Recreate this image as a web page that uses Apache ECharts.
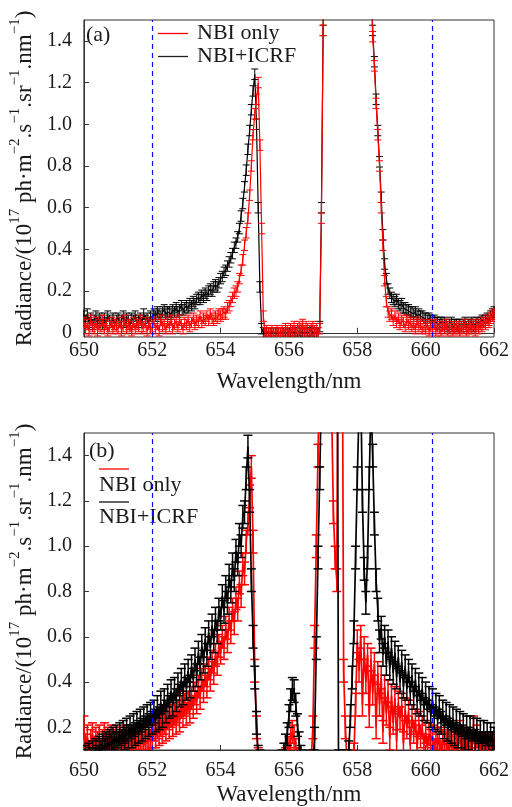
<!DOCTYPE html>
<html><head><meta charset="utf-8">
<script src="https://cdn.jsdelivr.net/npm/echarts@6/dist/echarts.min.js"></script>
<style>html,body{margin:0;padding:0;background:#fff}#c{width:512px;height:807px}</style>
</head><body><div id="c"></div>
<script>
// ---- data ----
const wlStart = 650, wlStep = 0.05;           // sampling grid of the spectra (nm)
const xTicks = [650, 652, 654, 656, 658, 660, 662];
const yTicksA = [0, 0.2, 0.4, 0.6, 0.8, 1.0, 1.2, 1.4];
const yTicksB = [0.2, 0.4, 0.6, 0.8, 1.0, 1.2, 1.4];
const markerWl = [652, 660.2];
const legendNames = ['NBI only', 'NBI+ICRF'];
const panelLabels = ['(a)', '(b)'];

// panel (a) NBI+ICRF
const aBlack = [
0.08,0.06,0.09,0.05,0.07,0.04,0.06,0.08,0.05,0.07,0.06,0.04,0.07,0.05,0.08,0.06,0.05,0.07,0.04,0.06,
0.07,0.05,0.06,0.08,0.05,0.07,0.06,0.04,0.07,0.06,0.08,0.05,0.06,0.07,0.05,0.09,0.06,0.07,0.05,0.08,
0.07,0.09,0.08,0.1,0.09,0.08,0.1,0.11,0.09,0.1,0.1,0.09,0.11,0.1,0.12,0.1,0.11,0.13,0.11,0.12,
0.13,0.12,0.14,0.13,0.15,0.14,0.16,0.17,0.16,0.18,0.17,0.19,0.18,0.2,0.21,0.2,0.22,0.23,0.22,0.24,
0.26,0.27,0.29,0.3,0.32,0.34,0.36,0.38,0.41,0.43,0.46,0.5,0.56,0.62,0.7,0.78,0.88,0.97,1.07,1.16,
1.24,1.0,0.6,0.22,0.02,0,0,0,0,0,0,0,0,0,0,0,0,0,0,0,
0,0,0.01,0,0,0,0.01,0,0,0,0,0,0,0.01,0,0,0,0,0.03,0.6,
1.45,3,3,3,3,3,3,3,3,3,3,3,3,3,3,3,3,3,3,3,
3,3,3,3,3,3,3,3,1.75,1.45,1.3,1.12,0.97,0.82,0.65,0.47,0.33,0.26,0.21,0.19,
0.17,0.16,0.15,0.16,0.14,0.13,0.14,0.12,0.12,0.11,0.11,0.1,0.1,0.09,0.1,0.08,0.09,0.08,0.08,0.07,
0.07,0.06,0.07,0.06,0.05,0.06,0.05,0.05,0.04,0.05,0.04,0.05,0.04,0.03,0.04,0.05,0.03,0.04,0.04,0.03,
0.04,0.03,0.04,0.05,0.03,0.04,0.04,0.05,0.03,0.04,0.05,0.04,0.05,0.06,0.05,0.06,0.07,0.06,0.08,0.09,
0.1];
// panel (a) NBI only
const aRed = [
0.05,0.02,0.04,0.01,0.06,0.03,0.02,0.05,0.01,0.04,0.03,0.06,0.02,0.04,0.01,0.03,0.05,0.02,0.04,0.03,
0.02,0.05,0.01,0.03,0.06,0.02,0.04,0.03,0.01,0.05,0.02,0.04,0.03,0.06,0.02,0.03,0.05,0.01,0.04,0.02,
0.03,0.05,0.02,0.04,0.01,0.06,0.03,0.04,0.02,0.05,0.03,0.06,0.02,0.04,0.05,0.03,0.06,0.04,0.02,0.05,
0.04,0.06,0.03,0.05,0.07,0.04,0.06,0.05,0.08,0.05,0.07,0.06,0.08,0.06,0.09,0.07,0.06,0.08,0.07,0.09,
0.08,0.09,0.1,0.09,0.12,0.13,0.15,0.17,0.19,0.2,0.22,0.26,0.3,0.35,0.42,0.48,0.55,0.66,0.8,0.95,
1.05,1.12,1.2,0.9,0.5,0.08,0,0.01,0,0,0.01,0,0,0.01,0,0,0.01,0,0.02,0.01,
0,0.02,0.01,0.03,0.01,0.02,0.03,0.02,0.04,0.01,0.03,0.02,0.01,0.02,0.03,0.01,0.02,0,0.02,0.55,
1.45,3,3,3,3,3,3,3,3,3,3,3,3,3,3,3,3,3,3,3,
3,3,3,3,3,3,3,3,1.7,1.42,1.28,1.1,0.95,0.8,0.6,0.42,0.25,0.15,0.1,0.08,
0.09,0.06,0.08,0.05,0.07,0.04,0.06,0.05,0.03,0.06,0.04,0.05,0.03,0.04,0.02,0.05,0.03,0.04,0.02,0.03,
0.02,0.04,0.01,0.03,0.02,0.04,0.01,0.03,0.02,0.01,0.03,0.02,0.04,0.01,0.02,0.03,0.01,0.02,0.03,0.02,
0.01,0.03,0.02,0.04,0.01,0.02,0.03,0.02,0.04,0.01,0.03,0.02,0.04,0.03,0.05,0.04,0.06,0.05,0.07,0.08,
0.09];
// panel (b) NBI+ICRF
const bBlack = [
0.05,0.07,0.04,0.08,0.06,0.09,0.06,0.1,0.07,0.11,0.09,0.12,0.1,0.13,0.11,0.14,0.12,0.15,0.13,0.16,
0.13,0.17,0.14,0.18,0.15,0.19,0.16,0.2,0.16,0.21,0.17,0.22,0.18,0.23,0.19,0.24,0.2,0.25,0.21,0.26,
0.22,0.27,0.23,0.29,0.24,0.31,0.25,0.32,0.27,0.34,0.29,0.36,0.3,0.37,0.32,0.39,0.34,0.41,0.35,0.43,
0.37,0.45,0.38,0.47,0.41,0.5,0.43,0.53,0.46,0.56,0.49,0.59,0.52,0.62,0.55,0.65,0.58,0.68,0.62,0.72,
0.68,0.78,0.71,0.82,0.75,0.87,0.8,0.92,0.85,0.98,0.92,1.05,1.0,1.13,1.15,1.3,1.44,1.2,0.85,0.6,
0.42,0.22,0.07,0.05,0.04,0.04,0.03,0.03,0.03,0.03,0.03,0.03,0.03,0.03,0.03,0.04,0.05,0.08,0.12,0.17,
0.25,0.32,0.37,0.36,0.3,0.21,0.13,0.07,0.05,0.04,0.04,0.04,0.04,0.04,0.05,0.15,0.55,0.95,1.3,1.7,
3,3,3,3,3,3,3,3,3,0.05,0.04,0.04,0.05,0.04,0.05,0.09,0.25,0.42,0.62,0.95,
1.3,1.6,1.7,1.2,0.9,0.75,0.95,1.3,1.65,1.4,1.1,0.85,0.72,0.58,0.64,0.52,0.6,0.48,0.58,0.46,
0.55,0.44,0.53,0.42,0.51,0.4,0.49,0.38,0.47,0.37,0.45,0.35,0.43,0.33,0.41,0.31,0.39,0.3,0.37,0.28,
0.35,0.27,0.33,0.25,0.32,0.24,0.3,0.23,0.29,0.22,0.27,0.2,0.26,0.19,0.25,0.18,0.24,0.17,0.23,0.16,
0.22,0.16,0.21,0.15,0.2,0.15,0.2,0.14,0.19,0.14,0.19,0.13,0.18,0.13,0.18,0.13,0.17,0.13,0.17,0.13,
0.15];
// panel (b) NBI only
const bRed = [
0.2,0.12,0.16,0.09,0.14,0.17,0.11,0.15,0.13,0.16,0.1,0.14,0.17,0.12,0.15,0.13,0.16,0.11,0.14,0.15,
0.13,0.15,0.12,0.14,0.16,0.13,0.15,0.12,0.14,0.13,0.15,0.12,0.14,0.13,0.15,0.12,0.14,0.13,0.15,0.14,
0.16,0.19,0.16,0.2,0.17,0.21,0.18,0.22,0.19,0.24,0.2,0.25,0.21,0.26,0.22,0.27,0.23,0.29,0.25,0.3,
0.26,0.31,0.27,0.33,0.29,0.35,0.31,0.38,0.33,0.41,0.36,0.43,0.38,0.46,0.41,0.49,0.44,0.52,0.48,0.56,
0.53,0.6,0.55,0.64,0.58,0.68,0.62,0.72,0.66,0.77,0.72,0.84,0.78,0.92,0.88,1.02,1.1,1.22,1.35,1.02,
0.45,0.2,0.06,0.04,0.03,0.03,0.03,0.03,0.03,0.03,0.03,0.03,0.03,0.03,0.03,0.03,0.04,0.05,0.06,0.08,
0.11,0.15,0.18,0.16,0.1,0.06,0.04,0.03,0.03,0.03,0.03,0.03,0.03,0.05,0.2,0.6,1.0,1.4,1.8,2.5,
3,3,3,3,3,1.6,1.15,0.95,0.85,2.5,3,2.5,0.45,0.2,0.05,0.05,0.04,0.05,0.08,0.3,
0.58,0.45,0.6,0.3,0.55,0.4,0.52,0.25,0.5,0.35,0.48,0.2,0.44,0.3,0.42,0.18,0.38,0.26,0.36,0.15,
0.34,0.22,0.33,0.14,0.31,0.24,0.3,0.13,0.28,0.2,0.27,0.12,0.25,0.18,0.23,0.11,0.22,0.16,0.2,0.12,
0.18,0.11,0.17,0.14,0.16,0.1,0.15,0.12,0.15,0.09,0.14,0.12,0.13,0.09,0.14,0.11,0.12,0.08,0.13,0.1,
0.18,0.09,0.13,0.1,0.14,0.11,0.12,0.08,0.2,0.1,0.16,0.11,0.13,0.09,0.12,0.1,0.13,0.09,0.11,0.12,
0.1];
// uncertainties (half-length of the error bars)
const errA_black = 0.025, errA_red = 0.025;
const errB_black = 0.05, errB_red = 0.05;

// ---- chart ----
const FF = 'Liberation Serif';
const RED = '#ff0000', BLACK = '#000000', TXT = '#1a1a1a', FRAME = '#333333';
const wl = aBlack.map((_, i) => +(wlStart + i * wlStep).toFixed(2));
const toPts = arr => arr.map((v, i) => [wl[i], v]);

function errRender(err, color, cap, lw) {
  return function (params, api) {
    const x = api.value(0), y = api.value(1);
    const lo = api.coord([x, y - err]);
    const hi = api.coord([x, y + err]);
    const st = { stroke: color, lineWidth: lw };
    return { type: 'group', children: [
      { type: 'line', shape: { x1: lo[0], y1: lo[1], x2: hi[0], y2: hi[1] }, style: st },
      { type: 'line', shape: { x1: lo[0] - cap, y1: lo[1], x2: lo[0] + cap, y2: lo[1] }, style: st },
      { type: 'line', shape: { x1: hi[0] - cap, y1: hi[1], x2: hi[0] + cap, y2: hi[1] }, style: st }
    ]};
  };
}

const series = [];
function addSet(ai, arr, color, err, cap, lw, z, withMarks) {
  const pts = toPts(arr);
  const s = { type: 'line', xAxisIndex: ai, yAxisIndex: ai, data: pts, symbol: 'none', showSymbol: false,
    lineStyle: { color, width: lw + 0.2 }, itemStyle: { color }, z, silent: true, animation: false, clip: true };
  if (withMarks) {
    s.markLine = { symbol: 'none', silent: true, animation: false,
      lineStyle: { color: '#0a0aff', type: [5, 4], width: 1.2 }, label: { show: false },
      data: markerWl.map(v => ({ xAxis: v })) };
  }
  series.push(s);
  series.push({ type: 'custom', xAxisIndex: ai, yAxisIndex: ai, data: pts, renderItem: errRender(err, color, cap, lw),
    z, clip: true, silent: true, animation: false });
}
// panel (a): black under red
addSet(0, aBlack, BLACK, errA_black, 3.5, 1, 2, true);
addSet(0, aRed, RED, errA_red, 3.5, 1, 3, false);
// panel (b): red under black
addSet(1, bRed, RED, errB_red, 4.5, 1.5, 2, false);
addSet(1, bBlack, BLACK, errB_black, 4.5, 1.5, 3, true);

const yName = '{n|Radiance/(10}{s|17}{n| ph·m}{s|−2}{n|.s}{s|−1}{n|.sr}{s|−1}{n|.nm}{s|−1}{n|)}';
const yNameStyle = { fontFamily: FF, color: TXT, rich: {
  n: { fontFamily: FF, fontSize: 23, color: TXT, lineHeight: 28, verticalAlign: 'bottom' },
  s: { fontFamily: FF, fontSize: 15, color: TXT, lineHeight: 17, verticalAlign: 'top' } } };

function xAxisCfg(gi, margin, gap) {
  return { type: 'value', gridIndex: gi, min: 650, max: 662, interval: 2,
    name: 'Wavelength/nm', nameLocation: 'middle', nameGap: gap,
    nameTextStyle: { fontFamily: FF, fontSize: 23, color: TXT },
    axisLine: { show: true, lineStyle: { color: FRAME, width: 1 } },
    axisTick: { show: true, inside: true, length: 5, lineStyle: { color: FRAME } },
    axisLabel: { fontFamily: FF, fontSize: 20, color: TXT, margin, customValues: xTicks },
    splitLine: { show: false } };
}
function yAxisCfg(gi, min, ticks) {
  return { type: 'value', gridIndex: gi, min, max: 1.5,
    name: yName, nameLocation: 'middle', nameRotate: 90, nameGap: 46, nameTextStyle: yNameStyle,
    axisLine: { show: true, lineStyle: { color: FRAME, width: 1 } },
    axisTick: { show: true, inside: true, length: 5, customValues: ticks, lineStyle: { color: FRAME } },
    axisLabel: { fontFamily: FF, fontSize: 20, color: TXT, margin: 12, customValues: ticks,
      formatter: v => (Math.abs(v) < 1e-9 ? '0' : v.toFixed(1)) },
    splitLine: { show: false } };
}

const F = '22px "Liberation Serif"';
const graphic = [
  // panel labels
  { type: 'text', left: 86, top: 24, style: { text: panelLabels[0], font: F, fill: TXT } },
  { type: 'text', left: 89, top: 440, style: { text: panelLabels[1], font: F, fill: TXT } },
  // legend (a)
  { type: 'line', shape: { x1: 158, y1: 33.5, x2: 188, y2: 33.5 }, style: { stroke: RED, lineWidth: 1.3 } },
  { type: 'text', left: 197, top: 22, style: { text: legendNames[0], font: F, fill: TXT } },
  { type: 'line', shape: { x1: 158, y1: 56.5, x2: 188, y2: 56.5 }, style: { stroke: '#222', lineWidth: 1.3 } },
  { type: 'text', left: 197, top: 45, style: { text: legendNames[1], font: F, fill: TXT } },
  // legend (b)
  { type: 'line', shape: { x1: 99, y1: 469, x2: 129, y2: 469 }, style: { stroke: RED, lineWidth: 1.3 } },
  { type: 'text', left: 99, top: 474, style: { text: legendNames[0], font: F, fill: TXT } },
  { type: 'line', shape: { x1: 99, y1: 502, x2: 129, y2: 502 }, style: { stroke: '#111', lineWidth: 1.3 } },
  { type: 'text', left: 99, top: 506, style: { text: legendNames[1], font: F, fill: TXT } }
];

const chart = echarts.init(document.getElementById('c'), null, { renderer: 'canvas' });
chart.setOption({
  animation: false,
  backgroundColor: '#ffffff',
  grid: [
    { left: 78, top: 20, width: 418, height: 317, show: true, borderColor: FRAME, borderWidth: 1, backgroundColor: 'transparent' },
    { left: 78, top: 433, width: 418, height: 318, show: true, borderColor: FRAME, borderWidth: 1, backgroundColor: 'transparent' }
  ],
  xAxis: [xAxisCfg(0, 4, 33), xAxisCfg(1, 11, 33)],
  yAxis: [yAxisCfg(0, -0.02, yTicksA), yAxisCfg(1, 0.1, yTicksB)],
  series,
  graphic
});
</script></body></html>
